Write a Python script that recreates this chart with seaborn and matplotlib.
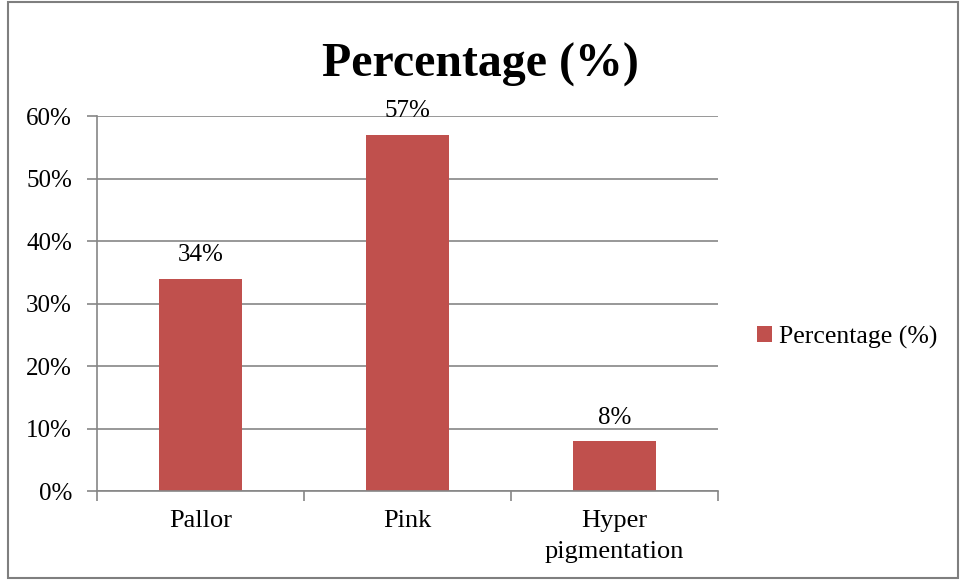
import matplotlib
matplotlib.use("Agg")
import matplotlib.pyplot as plt
import seaborn as sns
import pandas as pd
from matplotlib.patches import Rectangle

categories = ["Pallor", "Pink", "Hyper\npigmentation"]
values = [34, 57, 8]
y_ticks = [0, 10, 20, 30, 40, 50, 60]
series_name = "Percentage (%)"

bar_color = "#C0504D"
grid_color = "#868686"

sns.set_theme(style="white")
plt.rcParams["font.family"] = ["Liberation Serif", "DejaVu Serif"]
plt.rcParams["text.color"] = "black"
plt.rcParams["xtick.color"] = "black"
plt.rcParams["ytick.color"] = "black"

df = pd.DataFrame({"cat": categories, "val": values})

fig = plt.figure(figsize=(9.6, 5.8), dpi=100)
ax = fig.add_axes([0.101, 0.1534, 0.647, 0.6466])

sns.barplot(data=df, x="cat", y="val", color=bar_color, width=0.4,
            saturation=1, ax=ax, linewidth=0, edgecolor="none", legend=False)
if ax.get_legend() is not None:
    ax.get_legend().remove()

ax.set_ylim(0, 60)
ax.set_xlim(-0.5, len(categories) - 0.5)
ax.set_yticks(y_ticks)
ax.set_yticklabels([f"{t}%" for t in y_ticks], fontsize=18)
ax.set_xlabel("")
ax.set_ylabel("")

# category ticks sit on the boundaries between bars
ax.set_xticks([i + 0.5 for i in range(-1, len(categories))], minor=False)
ax.set_xticklabels([])
ax.set_xticks(range(len(categories)), minor=True)
ax.set_xticklabels(categories, minor=True, fontsize=19, linespacing=1.5,
                   va="top")
ax.tick_params(axis="x", which="minor", length=0, pad=14, bottom=True)
ax.tick_params(axis="x", which="major", length=7, width=1.2, color=grid_color,
               direction="out", bottom=True)
ax.tick_params(axis="y", length=7, width=1.2, color=grid_color, direction="out",
               pad=11, labelcolor="black", left=True)

ax.yaxis.grid(True, color=grid_color, linewidth=1.2)
ax.set_axisbelow(True)
for side in ["top", "right"]:
    ax.spines[side].set_visible(False)
for side in ["left", "bottom"]:
    ax.spines[side].set_color(grid_color)
    ax.spines[side].set_linewidth(1.2)

for i, v in enumerate(values):
    ax.annotate(f"{v}%", (i, v), xytext=(0, 9), textcoords="offset points",
                ha="center", va="bottom", fontsize=18)

fig.text(0.5, 0.888, series_name, ha="center", va="center",
         fontsize=34.5, fontweight="bold")

legend_handle = Rectangle((0, 0), 1, 1, facecolor=bar_color, edgecolor="none")
fig.legend([legend_handle], [series_name], loc="center left",
           bbox_to_anchor=(0.789, 0.419), frameon=False, fontsize=18.5,
           handlelength=0.55, handleheight=0.55, handletextpad=0.3,
           borderaxespad=0, borderpad=0)

fig.add_artist(Rectangle((0.008, 0.003), 0.99, 0.994, transform=fig.transFigure,
                         fill=False, edgecolor="#7f7f7f", linewidth=1.5))

fig.savefig("out.png", dpi=100, facecolor="white")
